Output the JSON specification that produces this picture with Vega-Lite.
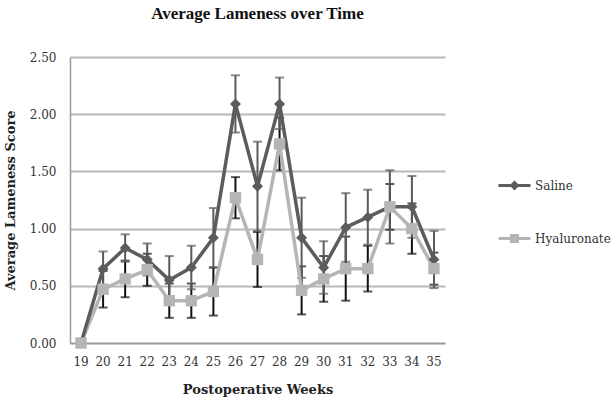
{
  "$schema": "https://vega.github.io/schema/vega-lite/v6.json",
  "width": 375,
  "height": 286,
  "autosize": {"type": "none"},
  "padding": {"left": 70, "top": 57, "right": 168, "bottom": 60},
  "background": "white",
  "title": {
    "text": "Average Lameness over Time",
    "font": "Liberation Serif",
    "fontSize": 17,
    "fontWeight": "bold",
    "color": "#111",
    "anchor": "middle",
    "offset": 28,
    "frame": "group"
  },
  "config": {
    "view": {"stroke": null},
    "font": "DejaVu Serif",
    "axisY": {
      "titleFont": "DejaVu Serif",
      "titleFontSize": 13,
      "titleFontWeight": "bold",
      "titleColor": "#222",
      "titlePadding": 12,
      "labelFont": "DejaVu Serif",
      "labelFontSize": 12,
      "labelColor": "#333",
      "labelPadding": 14,
      "ticks": false,
      "domainColor": "#9a9a9a",
      "domainWidth": 1.5,
      "grid": true,
      "gridColor": "#b8b8b8",
      "gridWidth": 2
    }
  },
  "data": {
    "values": [
      {"week": 19, "series": "Saline", "mean": 0.0, "lo": 0.0, "hi": 0.0},
      {"week": 20, "series": "Saline", "mean": 0.65, "lo": 0.5, "hi": 0.8},
      {"week": 21, "series": "Saline", "mean": 0.83, "lo": 0.71, "hi": 0.95},
      {"week": 22, "series": "Saline", "mean": 0.73, "lo": 0.59, "hi": 0.87},
      {"week": 23, "series": "Saline", "mean": 0.55, "lo": 0.34, "hi": 0.76},
      {"week": 24, "series": "Saline", "mean": 0.66, "lo": 0.47, "hi": 0.85},
      {"week": 25, "series": "Saline", "mean": 0.92, "lo": 0.66, "hi": 1.18},
      {"week": 26, "series": "Saline", "mean": 2.09, "lo": 1.84, "hi": 2.34},
      {"week": 27, "series": "Saline", "mean": 1.37, "lo": 0.98, "hi": 1.76},
      {"week": 28, "series": "Saline", "mean": 2.09, "lo": 1.87, "hi": 2.32},
      {"week": 29, "series": "Saline", "mean": 0.92, "lo": 0.57, "hi": 1.27},
      {"week": 30, "series": "Saline", "mean": 0.66, "lo": 0.43, "hi": 0.89},
      {"week": 31, "series": "Saline", "mean": 1.01, "lo": 0.71, "hi": 1.31},
      {"week": 32, "series": "Saline", "mean": 1.1, "lo": 0.86, "hi": 1.34},
      {"week": 33, "series": "Saline", "mean": 1.19, "lo": 0.87, "hi": 1.51},
      {"week": 34, "series": "Saline", "mean": 1.19, "lo": 0.92, "hi": 1.46},
      {"week": 35, "series": "Saline", "mean": 0.73, "lo": 0.48, "hi": 0.98},
      {"week": 19, "series": "Hyaluronate", "mean": 0.0, "lo": 0.0, "hi": 0.0},
      {"week": 20, "series": "Hyaluronate", "mean": 0.47, "lo": 0.31, "hi": 0.63},
      {"week": 21, "series": "Hyaluronate", "mean": 0.56, "lo": 0.4, "hi": 0.72},
      {"week": 22, "series": "Hyaluronate", "mean": 0.64, "lo": 0.5, "hi": 0.78},
      {"week": 23, "series": "Hyaluronate", "mean": 0.37, "lo": 0.22, "hi": 0.52},
      {"week": 24, "series": "Hyaluronate", "mean": 0.37, "lo": 0.22, "hi": 0.52},
      {"week": 25, "series": "Hyaluronate", "mean": 0.45, "lo": 0.24, "hi": 0.66},
      {"week": 26, "series": "Hyaluronate", "mean": 1.27, "lo": 1.09, "hi": 1.45},
      {"week": 27, "series": "Hyaluronate", "mean": 0.73, "lo": 0.49, "hi": 0.97},
      {"week": 28, "series": "Hyaluronate", "mean": 1.74, "lo": 1.51, "hi": 1.97},
      {"week": 29, "series": "Hyaluronate", "mean": 0.46, "lo": 0.25, "hi": 0.67},
      {"week": 30, "series": "Hyaluronate", "mean": 0.56, "lo": 0.36, "hi": 0.76},
      {"week": 31, "series": "Hyaluronate", "mean": 0.65, "lo": 0.37, "hi": 0.93},
      {"week": 32, "series": "Hyaluronate", "mean": 0.65, "lo": 0.45, "hi": 0.85},
      {"week": 33, "series": "Hyaluronate", "mean": 1.19, "lo": 0.99, "hi": 1.39},
      {"week": 34, "series": "Hyaluronate", "mean": 1.0, "lo": 0.78, "hi": 1.22},
      {"week": 35, "series": "Hyaluronate", "mean": 0.65, "lo": 0.51, "hi": 0.79}
    ]
  },
  "encoding": {
    "x": {
      "field": "week",
      "type": "ordinal",
      "scale": {"type": "band", "paddingInner": 0, "paddingOuter": 0},
      "axis": {
        "title": "Postoperative Weeks",
        "titleFont": "DejaVu Serif",
        "titleFontSize": 13,
        "titleFontWeight": "bold",
        "titleColor": "#222",
        "titlePadding": 16,
        "labelFont": "DejaVu Serif",
        "labelFontSize": 12,
        "labelColor": "#333",
        "labelAngle": 0,
        "labelPadding": 13,
        "ticks": false,
        "domainColor": "#9a9a9a",
        "domainWidth": 1.5
      }
    }
  },
  "layer": [
    {
      "mark": {"type": "rule", "opacity": 0},
      "encoding": {
        "y": {
          "field": "mean",
          "type": "quantitative",
          "title": "Average Lameness Score",
          "scale": {"domain": [0, 2.5], "nice": false, "zero": true},
          "axis": {"values": [0, 0.5, 1, 1.5, 2, 2.5], "format": ".2f"}
        }
      }
    },
    {
      "transform": [{"filter": "datum.series == 'Hyaluronate' && datum.week > 19"}],
      "mark": {"type": "rule", "color": "#111", "strokeWidth": 2},
      "encoding": {
        "y": {"field": "lo", "type": "quantitative", "title": "Average Lameness Score", "axis": {"values": [0, 0.5, 1, 1.5, 2, 2.5], "format": ".2f"}, "scale": {"domain": [0, 2.5], "nice": false}},
        "y2": {"field": "hi"}
      }
    },
    {
      "transform": [{"filter": "datum.series == 'Hyaluronate' && datum.week > 19"}],
      "mark": {"type": "tick", "color": "#111", "thickness": 2, "size": 9},
      "encoding": {"y": {"field": "lo", "type": "quantitative", "title": "Average Lameness Score", "axis": {"values": [0, 0.5, 1, 1.5, 2, 2.5], "format": ".2f"}, "scale": {"domain": [0, 2.5], "nice": false}}}
    },
    {
      "transform": [{"filter": "datum.series == 'Hyaluronate' && datum.week > 19"}],
      "mark": {"type": "tick", "color": "#111", "thickness": 2, "size": 9},
      "encoding": {"y": {"field": "hi", "type": "quantitative", "title": "Average Lameness Score", "axis": {"values": [0, 0.5, 1, 1.5, 2, 2.5], "format": ".2f"}, "scale": {"domain": [0, 2.5], "nice": false}}}
    },
    {
      "transform": [{"filter": "datum.series == 'Saline' && datum.week > 19"}],
      "mark": {"type": "rule", "color": "#5a5a5a", "strokeWidth": 2},
      "encoding": {
        "y": {"field": "lo", "type": "quantitative", "title": "Average Lameness Score", "axis": {"values": [0, 0.5, 1, 1.5, 2, 2.5], "format": ".2f"}, "scale": {"domain": [0, 2.5], "nice": false}},
        "y2": {"field": "hi"}
      }
    },
    {
      "transform": [{"filter": "datum.series == 'Saline' && datum.week > 19"}],
      "mark": {"type": "tick", "color": "#5a5a5a", "thickness": 2, "size": 9},
      "encoding": {"y": {"field": "lo", "type": "quantitative", "title": "Average Lameness Score", "axis": {"values": [0, 0.5, 1, 1.5, 2, 2.5], "format": ".2f"}, "scale": {"domain": [0, 2.5], "nice": false}}}
    },
    {
      "transform": [{"filter": "datum.series == 'Saline' && datum.week > 19"}],
      "mark": {"type": "tick", "color": "#5a5a5a", "thickness": 2, "size": 9},
      "encoding": {"y": {"field": "hi", "type": "quantitative", "title": "Average Lameness Score", "axis": {"values": [0, 0.5, 1, 1.5, 2, 2.5], "format": ".2f"}, "scale": {"domain": [0, 2.5], "nice": false}}}
    },
    {
      "transform": [{"filter": "datum.series == 'Hyaluronate'"}],
      "mark": {"type": "line", "color": "#b5b5b5", "strokeWidth": 3.5},
      "encoding": {"y": {"field": "mean", "type": "quantitative", "title": "Average Lameness Score", "axis": {"values": [0, 0.5, 1, 1.5, 2, 2.5], "format": ".2f"}, "scale": {"domain": [0, 2.5], "nice": false}}}
    },
    {
      "transform": [{"filter": "datum.series == 'Saline'"}],
      "mark": {"type": "line", "color": "#5c5c5c", "strokeWidth": 3.5},
      "encoding": {"y": {"field": "mean", "type": "quantitative", "title": "Average Lameness Score", "axis": {"values": [0, 0.5, 1, 1.5, 2, 2.5], "format": ".2f"}, "scale": {"domain": [0, 2.5], "nice": false}}}
    },
    {
      "transform": [{"filter": "datum.series == 'Saline'"}],
      "mark": {"type": "point", "shape": "diamond", "filled": true, "color": "#5c5c5c", "size": 120, "opacity": 1},
      "encoding": {"y": {"field": "mean", "type": "quantitative", "title": "Average Lameness Score", "axis": {"values": [0, 0.5, 1, 1.5, 2, 2.5], "format": ".2f"}, "scale": {"domain": [0, 2.5], "nice": false}}}
    },
    {
      "transform": [{"filter": "datum.series == 'Hyaluronate'"}],
      "mark": {"type": "point", "shape": "square", "filled": true, "color": "#b5b5b5", "size": 130, "opacity": 1},
      "encoding": {"y": {"field": "mean", "type": "quantitative", "title": "Average Lameness Score", "axis": {"values": [0, 0.5, 1, 1.5, 2, 2.5], "format": ".2f"}, "scale": {"domain": [0, 2.5], "nice": false}}}
    },
    {
      "transform": [{"filter": "datum.week < 0"}],
      "mark": {"type": "point", "filled": false, "strokeWidth": 3, "opacity": 1},
      "encoding": {
        "y": {"field": "mean", "type": "quantitative", "title": "Average Lameness Score", "axis": {"values": [0, 0.5, 1, 1.5, 2, 2.5], "format": ".2f"}, "scale": {"domain": [0, 2.5], "nice": false}},
        "color": {
          "field": "series",
          "type": "nominal",
          "scale": {"domain": ["Saline", "Hyaluronate"], "range": ["#5c5c5c", "#b5b5b5"]},
          "legend": {
            "title": null,
            "orient": "none",
            "legendX": 438,
            "legendY": 122,
            "padding": 0,
            "labelFont": "DejaVu Serif",
            "labelFontSize": 12,
            "labelColor": "#333",
            "labelOffset": 14,
            "symbolStrokeWidth": 3,
            "symbolSize": 100,
            "symbolOpacity": 1,
            "rowPadding": 34
          }
        },
        "shape": {
          "field": "series",
          "type": "nominal",
          "scale": {
            "domain": ["Saline", "Hyaluronate"],
            "range": [
              "M-3.2,0L3.2,0M0,-0.6L0.6,0L0,0.6L-0.6,0Z",
              "M-3.2,0L3.2,0M-0.6,-0.6L0.6,-0.6L0.6,0.6L-0.6,0.6Z"
            ]
          },
          "legend": {
            "title": null,
            "orient": "none",
            "legendX": 438,
            "legendY": 122,
            "padding": 0,
            "labelFont": "DejaVu Serif",
            "labelFontSize": 12,
            "labelColor": "#333",
            "labelOffset": 14,
            "symbolStrokeWidth": 3,
            "symbolSize": 100,
            "symbolOpacity": 1,
            "rowPadding": 34
          }
        }
      }
    }
  ]
}
